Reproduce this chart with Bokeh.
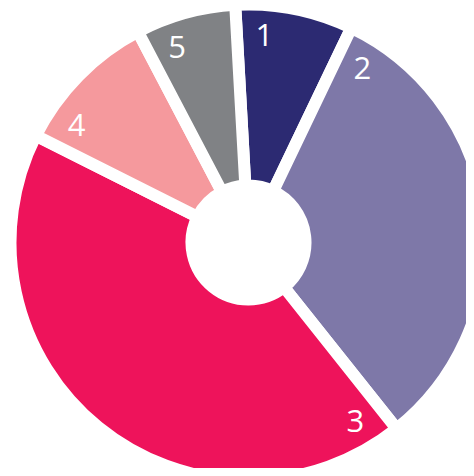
import numpy as np
from bokeh.plotting import figure
from bokeh.models import ColumnDataSource, Range1d
from bokeh.core.properties import value
from bokeh.embed import file_html
from bokeh.resources import INLINE

labels = ["1", "2", "3", "4", "5"]
values = [8.0, 32.2, 43.1, 9.9, 6.8]
colors = ["#2C2A72", "#7E78A8", "#EE135B", "#F5999D", "#808285"]

W, H = 466, 468
cx, cy = 248, H - 242
R_out, R_in = 232, 63
gap = 12
start_deg = -3.2  # clockwise from top
label_r = 208
label_off = 7.6

vals = np.array(values, dtype=float)
frac = vals / vals.sum()
cum = np.concatenate([[0], np.cumsum(frac)]) * 360.0 + start_deg
th0 = cum[:-1]
th1 = cum[1:]
# bokeh angles: counterclockwise from +x
start_a = np.radians(90 - th1)
end_a = np.radians(90 - th0)

src = ColumnDataSource(dict(
    x=[cx] * len(values), y=[cy] * len(values),
    start=start_a, end=end_a, color=colors, label=labels,
))

la = np.radians(90 - (th0 + label_off))
lsrc = ColumnDataSource(dict(
    x=cx + label_r * np.cos(la), y=cy + label_r * np.sin(la), label=labels,
))

p = figure(width=W, height=H, output_backend="svg", toolbar_location=None,
           x_range=Range1d(0, W), y_range=Range1d(0, H), min_border=0)
p.axis.visible = False
p.grid.visible = False
p.outline_line_color = None
p.background_fill_color = "white"
p.border_fill_color = "white"

p.annular_wedge(x="x", y="y", inner_radius=R_in - gap / 2, outer_radius=R_out + gap / 2,
                start_angle="start", end_angle="end", fill_color="color",
                line_color="white", line_width=gap, source=src)

p.text(x="x", y="y", text="label", source=lsrc, text_color="white",
       text_font=value("Open Sans"), text_font_size="31px",
       text_align="center", text_baseline="middle")

open("out.html", "w").write(file_html(p, INLINE))
